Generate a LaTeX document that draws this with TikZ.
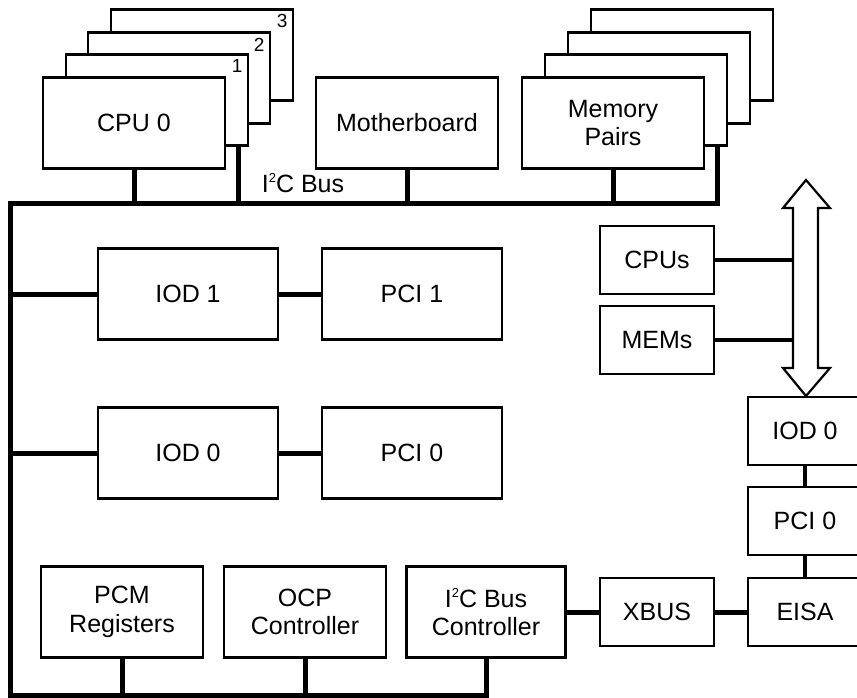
\documentclass[tikz,border=0pt]{standalone}
\usepackage{fontspec}
\setmainfont{Liberation Sans}
\usetikzlibrary{calc, positioning}
\newcommand{\supertwo}{{\fontsize{13}{13}\selectfont\raisebox{10pt}{2}}}

\begin{document}
\begin{tikzpicture}[x=1pt, y=-1pt,
	box/.style={draw, line width=2.2pt, fill=white, minimum width=182pt, minimum height=91pt, inner sep=0pt, align=center, font=\fontsize{25}{28.5}\selectfont},
	smallbox/.style={box, minimum width=114pt, minimum height=68pt},
	lowbox/.style={box, minimum width=162pt},
	num/.style={inner sep=0pt, font=\fontsize{19}{20}\selectfont},
	bus/.style={line width=5pt},
	link/.style={line width=3.5pt}]
		\useasboundingbox (0,0) rectangle (857,698);
		% cpu stack
		\node[box] (cpu3) at (202,55) {};
		\node[box] (cpu2) at (179,78) {};
		\node[box] (cpu1) at (157,100) {};
		\node[box] (cpu0) at (134,123) {CPU 0};
		\node[num] (n3) at ([xshift=-12pt, yshift=-13pt]cpu3.north east) {3};
		\node[num] (n2) at ([xshift=-12pt, yshift=-13pt]cpu2.north east) {2};
		\node[num] (n1) at ([xshift=-12pt, yshift=-13pt]cpu1.north east) {1};
		\node[box] (mb) at (407,123) {Motherboard};
		% memory stack
		\node[box] (mem3) at (682,55) {};
		\node[box] (mem2) at (659,78) {};
		\node[box] (mem1) at (636,100) {};
		\node[box] (mem0) at (613,123) {Memory\\Pairs};
		\coordinate (tl) at (10,203);
		\coordinate (bl) at (10,695);
		\coordinate (cpuj) at ([xshift=-11pt]cpu1.south east);
		\coordinate (memj) at ([xshift=-11pt]mem1.south east);
		\node[inner sep=0pt, font=\fontsize{25}{28}\selectfont] (i2c) at (303,183) {I\supertwo C Bus};
		% io side
		\node[box, minimum width=180pt] (iod1) at (188,294) {IOD 1};
		\node[box, minimum width=180pt] (pci1) at (412,294) {PCI 1};
		\node[box, minimum width=180pt] (iod0) at (188,453) {IOD 0};
		\node[box, minimum width=180pt] (pci0) at (412,453) {PCI 0};
		\node[smallbox] (cpus) at (657,260) {CPUs};
		\node[smallbox] (mems) at (657,340) {MEMs};
		\node[smallbox] (iodr) at (805,431) {IOD 0};
		\node[smallbox] (pcir) at (805,521) {PCI 0};
		\node[smallbox] (eisa) at (805,612) {EISA};
		\node[smallbox] (xbus) at (657,612) {XBUS};
		\node[lowbox] (pcm) at (122,612) {PCM\\Registers};
		\node[lowbox] (ocp) at (305,612) {OCP\\Controller};
		\node[lowbox, minimum width=159pt] (i2cc) at (486,612) {I\supertwo C Bus\\Controller};
		% system bus arrow
		\coordinate (shaft) at (793,259);
		\draw[line width=2.2pt, fill=white] (806,180) -- (830,208) -- (818,208) -- (818,368) -- (830,368)
			-- (806,396) -- (783,368) -- (793,368) -- (793,208) -- (783,208) -- cycle;
		% i2c bus
		\draw[bus] (memj) |- (tl) -- (bl) -| (i2cc);
		\draw[bus] (cpu0) -- (cpu0 |- tl);
		\draw[bus] (cpuj) -- (cpuj |- tl);
		\draw[bus] (mb) -- (mb |- tl);
		\draw[bus] (mem0) -- (mem0 |- tl);
		\draw[bus] (iod1) -- (iod1 -| tl);
		\draw[bus] (iod0) -- (iod0 -| tl);
		\draw[bus] (pcm) -- (pcm |- bl);
		\draw[bus] (ocp) -- (ocp |- bl);
		\draw[bus] (iod1) -- (pci1);
		\draw[bus] (iod0) -- (pci0);
		\draw[bus] (i2cc) -- (xbus);
		\draw[bus] (xbus) -- (eisa);
		\draw[link] (cpus) -- (cpus -| shaft);
		\draw[link] (mems) -- (mems -| shaft);
		\draw[link] (iodr) -- (pcir);
		\draw[link] (pcir) -- (eisa);
	\end{tikzpicture}
\end{document}
